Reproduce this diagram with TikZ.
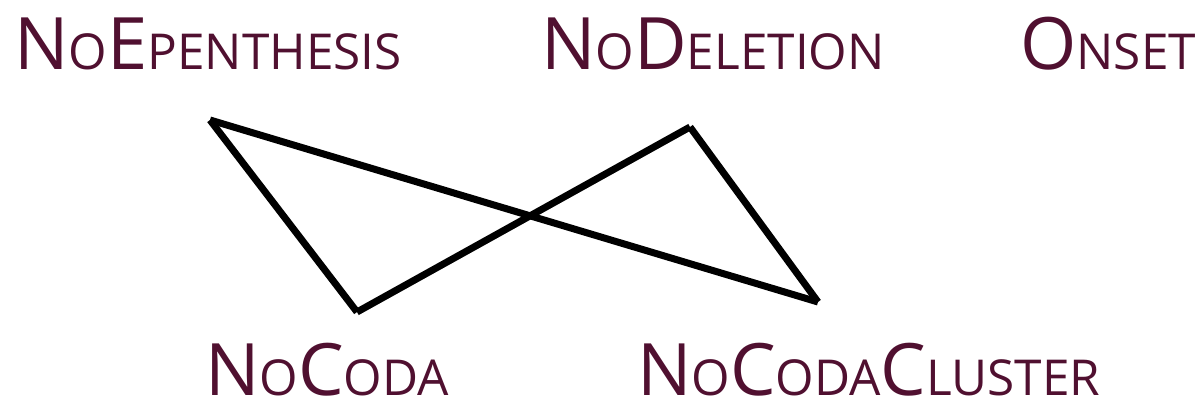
\documentclass[tikz,border=0pt]{standalone}
\usepackage{fontspec}
\setmainfont{Open Sans}
\usetikzlibrary{calc}
\definecolor{conmaroon}{RGB}{80,16,48}
\newcommand{\fakesc}[2]{#1{\fontsize{49.5}{54}\selectfont #2}}

\begin{document}
\begin{tikzpicture}[x=1pt,y=-1pt,
		constraint/.style={inner sep=0pt, anchor=base west, text=conmaroon, font=\fontsize{72.3}{80}\selectfont},
		ranking/.style={line width=7pt, black}]
	\useasboundingbox (0,0) rectangle (1199,401);
	% top row
	\node[constraint] (epen) at (14,70) {N\fakesc{}{O}E\fakesc{}{PENTHESIS}};
	\node[constraint] (del) at (541,70) {N\fakesc{}{O}D\fakesc{}{ELETION}};
	\node[constraint] (ons) at (1020,70) {O\fakesc{}{NSET}};
	% bottom row
	\node[constraint] (coda) at (205,395) {N\fakesc{}{O}C\fakesc{}{ODA}};
	\node[constraint] (clus) at (637,395) {N\fakesc{}{O}C\fakesc{}{ODA}C\fakesc{}{LUSTER}};
	% line ends
	\coordinate (epen-e) at (210,120);
	\coordinate (del-e) at (690,127);
	\coordinate (coda-e) at (357,312);
	\coordinate (clus-e) at (818,302);
	\draw[ranking] (epen-e) -- (coda-e);
	\draw[ranking] (epen-e) -- (clus-e);
	\draw[ranking] (del-e) -- (coda-e);
	\draw[ranking] (del-e) -- (clus-e);
\end{tikzpicture}
\end{document}
